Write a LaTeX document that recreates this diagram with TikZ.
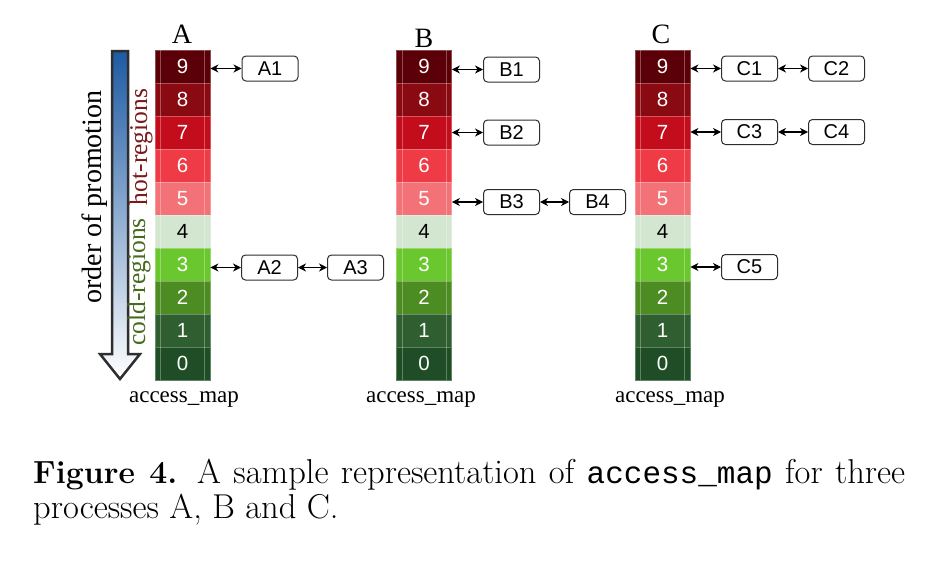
\documentclass[tikz,border=0pt]{standalone}
\usepackage{graphicx}
\usepackage{fontspec}
\newfontfamily\timesf{Liberation Serif}
\newfontfamily\arialf{Liberation Sans}
\newfontfamily\monof{Liberation Mono}
\usetikzlibrary{arrows.meta}
\definecolor{c9}{HTML}{5C0008}
\definecolor{c8}{HTML}{8A0A12}
\definecolor{c7}{HTML}{C40D1C}
\definecolor{c6}{HTML}{EE3B45}
\definecolor{c5}{HTML}{F27278}
\definecolor{c4}{HTML}{D3E6D0}
\definecolor{c3}{HTML}{6AC82E}
\definecolor{c2}{HTML}{4C8C22}
\definecolor{c1}{HTML}{2F5F30}
\definecolor{c0}{HTML}{1F4D25}
\definecolor{arrblue}{HTML}{1D5AA3}
\definecolor{outl}{HTML}{2E2E2E}
\definecolor{hotc}{HTML}{7B1A1A}
\definecolor{coldc}{HTML}{466A1E}
\tikzset{
  cell/.style={minimum width=55pt, minimum height=33pt, inner sep=0pt, line width=0.8pt,
    font=\arialf\fontsize{20.5}{20.5}\selectfont},
  innerline/.style={white, opacity=0.3, line width=0.8pt},
  box/.style={draw=outl, line width=1pt, rounded corners=4pt, fill=white,
    minimum width=56pt, minimum height=25pt, inner sep=0pt,
    font=\arialf\fontsize{20}{20}\selectfont},
  conn/.style={{Stealth[length=8pt,width=8pt,inset=2.5pt]}-{Stealth[length=8pt,width=8pt,inset=2.5pt]}, line width=1.2pt, black},
  title/.style={font=\timesf\fontsize{28}{28}\selectfont, anchor=base, inner sep=0pt},
  amap/.style={font=\timesf\fontsize{23}{23}\selectfont, anchor=base, inner sep=0pt},
  side/.style={rotate=90, inner sep=0pt},
  bigarrow/.style={draw=outl, line width=2.5pt, line join=miter, top color=arrblue, bottom color=white}
}
\begin{document}
\begin{tikzpicture}[x=1pt, y=-1pt]
\useasboundingbox (0,0) rectangle (942,560);
\fill[white] (0,0) rectangle (942,560);

% access_map columns
\foreach \c/\x in {A/182.5, B/424, C/662.5} {
  \foreach \k/\tc in {9/white, 8/white, 7/white, 6/white, 5/white, 4/black, 3/white, 2/white, 1/white, 0/white} {
    \node[cell, fill=c\k, draw=c\k!70!white, text=\tc] (\c-\k) at (\x, {66.5+33*(9-\k)}) {\k};
  }
  \draw[innerline] ([xshift=6pt]\c-9.north west) -- ([xshift=6pt]\c-0.south west);
  \draw[innerline] ([xshift=-6pt]\c-9.north east) -- ([xshift=-6pt]\c-0.south east);
}

% titles
\node[title] (tA) at (182,43) {A};
\node[title] (tB) at (424,47) {B};
\node[title] (tC) at (661,43) {C};

% labels under columns
\node[amap] (mA) at (184,402) {access\_map};
\node[amap] (mB) at (421,402) {access\_map};
\node[amap] (mC) at (670,402) {access\_map};

% order of promotion arrow
\draw[bigarrow] (112,51) -- (128,51) -- (128,354) -- (140,354) -- (120,379) -- (100,354) -- (112,354) -- cycle;
\node[side, font=\timesf\fontsize{28}{28}\selectfont] (promo) at (95,197) {order of promotion};
\node[side, font=\timesf\fontsize{25.5}{25.5}\selectfont, text=hotc] (hot) at (141,147) {hot-regions};
\node[side, font=\timesf\fontsize{25.5}{25.5}\selectfont, text=coldc] (cold) at (139,282) {cold-regions};

% boxes
\node[box] (A1) at (270,68.5) {A1};
\node[box] (A2) at (269.5,267.5) {A2};
\node[box] (A3) at (355.5,267.5) {A3};
\node[box] (B1) at (511.5,69.5) {B1};
\node[box] (B2) at (511.5,132.5) {B2};
\node[box] (B3) at (511.5,202) {B3};
\node[box] (B4) at (597.5,202) {B4};
\node[box] (C1) at (749.5,68.5) {C1};
\node[box] (C2) at (836.5,68.5) {C2};
\node[box] (C3) at (749.5,132) {C3};
\node[box] (C4) at (836.5,132) {C4};
\node[box] (C5) at (749.5,267) {C5};

% connectors
\draw[conn] (A-9.east |- A1.west) -- (A1.west);
\draw[conn] (A-3.east |- A2.west) -- (A2.west);
\draw[conn] (A2.east) -- (A3.west);
\draw[conn] (B-9.east |- B1.west) -- (B1.west);
\draw[conn] (B-7.east |- B2.west) -- (B2.west);
\draw[conn] (B-5.east |- B3.west) -- (B3.west);
\draw[conn] (B3.east) -- (B4.west);
\draw[conn] (C-9.east |- C1.west) -- (C1.west);
\draw[conn] (C1.east) -- (C2.west);
\draw[conn] (C-7.east |- C3.west) -- (C3.west);
\draw[conn] (C3.east) -- (C4.west);
\draw[conn] (C-3.east |- C5.west) -- (C5.west);

% caption
\node[anchor=base west, inner sep=0pt, font=\fontsize{34.5}{34.5}\selectfont] (cap1) at (33,483)
  {\makebox[872pt][s]{{\fontsize{32}{32}\selectfont\textbf{Figure 4.}} A sample representation of {\monof\fontsize{31}{31}\selectfont access\_map} for three}};
\node[anchor=base west, inner sep=0pt, font=\fontsize{34.5}{34.5}\selectfont] (cap2) at (33,518) {processes A, B and C.};
\end{tikzpicture}
\end{document}
